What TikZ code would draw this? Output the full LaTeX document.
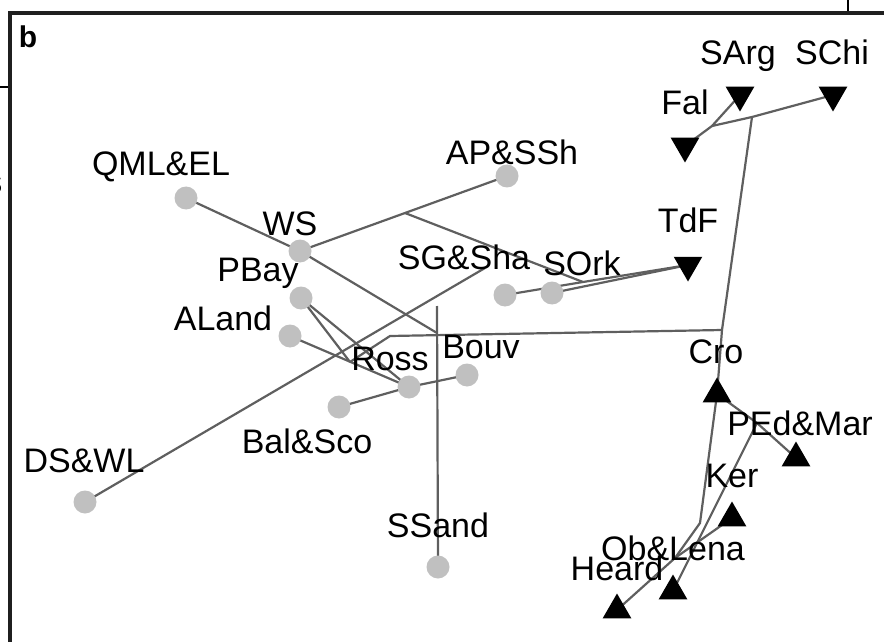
\documentclass[tikz,border=0pt]{standalone}
\usepackage{fontspec}
\setmainfont{Liberation Sans}
\usetikzlibrary{shapes.geometric,backgrounds}
\definecolor{sitegray}{RGB}{192,192,192}
\definecolor{branchgray}{RGB}{95,95,95}
\tikzset{
  site/.style={circle, fill=sitegray, inner sep=0pt, minimum size=11.5pt},
  tipup/.style={regular polygon, regular polygon sides=3, fill=black, inner sep=0pt, minimum size=16.5pt},
  tipdown/.style={tipup, shape border rotate=180},
  lab/.style={anchor=base, inner sep=0pt, font=\fontsize{17}{20}\selectfont},
  branch/.style={line width=1.1pt, draw=branchgray},
}
\begin{document}
\begin{tikzpicture}[x=0.5pt,y=-0.5pt]
  \useasboundingbox (0,0) rectangle (884,642);
  \clip (0,0) rectangle (884,642);
  % bits of the next panels
  \draw[line width=0.6pt] (0,87) -- (10,87);
  \draw[line width=0.7pt] (848,0) -- (848,12);
  \node[lab] (cut) at (-6,193) {s};
  % frame
  \draw[line width=2pt, draw=black!88] (10,13) rectangle (900,660);
  \node[anchor=base, inner sep=0pt, font=\fontsize{15}{18}\selectfont\bfseries] (panel) at (28,48) {b};

  % grey sites
  \node[site] (qml)   at (186,198) {};
  \node[site] (apssh) at (507,176) {};
  \node[site] (ws)    at (300,251) {};
  \node[site] (pbay)  at (301,298) {};
  \node[site] (aland) at (290,336) {};
  \node[site] (sgsha) at (505,295) {};
  \node[site] (sork)  at (552,293) {};
  \node[site] (ross)  at (409,387) {};
  \node[site] (bouv)  at (467,375) {};
  \node[site] (balsco) at (339,407) {};
  \node[site] (dswl)  at (85,502) {};
  \node[site] (ssand) at (438,567) {};

  % black tips
  \node[tipdown] (sarg)  at (740,95) {};
  \node[tipdown] (schi)  at (833,95) {};
  \node[tipdown] (fal)   at (685,146) {};
  \node[tipdown] (tdf)   at (688,265) {};
  \node[tipup]   (cro)   at (717,394) {};
  \node[tipup]   (pedmar) at (796,458) {};
  \node[tipup]   (ker)   at (732,518) {};
  \node[tipup]   (oblena) at (673,591) {};
  \node[tipup]   (heard) at (617,610) {};

  % labels
  \node[lab] (lqml)   at (161,176) {QML\&EL};
  \node[lab] (lapssh) at (512,164) {AP\&SSh};
  \node[lab] (lws)    at (290,235) {WS};
  \node[lab] (lpbay)  at (258,281) {PBay};
  \node[lab] (laland) at (223,330) {ALand};
  \node[lab] (lsgsha) at (464,270) {SG\&Sha};
  \node[lab] (lsork)  at (582,275) {SOrk};
  \node[lab] (lross)  at (390,370) {Ross};
  \node[lab] (lbouv)  at (481,358) {Bouv};
  \node[lab] (lbalsco) at (307,453) {Bal\&Sco};
  \node[lab] (ldswl)  at (84,472) {DS\&WL};
  \node[lab] (lssand) at (438,537) {SSand};
  \node[lab] (lsarg)  at (738,65) {SArg};
  \node[lab] (lschi)  at (832,65) {SChi};
  \node[lab] (lfal)   at (685,115) {Fal};
  \node[lab] (ltdf)   at (688,233) {TdF};
  \node[lab] (lcro)   at (716,363) {Cro};
  \node[lab] (lpedmar) at (800,435) {PEd\&Mar};
  \node[lab] (lker)   at (732,487) {Ker};
  \node[lab] (loblena) at (673,560) {Ob\&Lena};
  \node[lab] (lheard) at (617,580) {Heard};

  % inner nodes of the tree
  \coordinate (n1) at (712,126);
  \coordinate (n2) at (752,117);
  \coordinate (n3) at (722,330);
  \coordinate (n4) at (700,523);
  \coordinate (n5) at (675,558);
  \coordinate (p)  at (757,423);
  \coordinate (j1) at (405,213);
  \coordinate (r)  at (583,282);
  \coordinate (t)  at (485,268);
  \coordinate (v)  at (437,306);
  \coordinate (w)  at (437,333);
  \coordinate (h)  at (390,336);
  \coordinate (q)  at (350,362);

  \begin{pgfonlayer}{background}
    % black part
    \draw[branch] (fal.center) -- (n1) -- (sarg.center);
    \draw[branch] (n1) -- (n2) -- (schi.center);
    \draw[branch] (n2) -- (n3) -- (cro.center) -- (n4) -- (n5) -- (heard.center);
    \draw[branch] (ker.center) -- (n5);
    \draw[branch] (cro.center) -- (p) -- (pedmar.center);
    \draw[branch] (p) -- (oblena.center);
    % grey part
    \draw[branch] (qml.center) -- (ws.center) -- (w);
    \draw[branch] (ws.center) -- (j1) -- (apssh.center);
    \draw[branch] (j1) -- (r);
    \draw[branch] (sgsha.center) -- (r) -- (tdf.center);
    \draw[branch] (sork.center) -- (tdf.center);
    \draw[branch] (dswl.center) -- (t);
    \draw[branch] (v) -- (ssand.center);
    \draw[branch] (q) -- (h) -- (n3);
    \draw[branch] (pbay.center) -- (q);
    \draw[branch] (pbay.center) -- (ross.center);
    \draw[branch] (aland.center) -- (ross.center);
    \draw[branch] (balsco.center) -- (ross.center) -- (bouv.center);
  \end{pgfonlayer}
\end{tikzpicture}
\end{document}
